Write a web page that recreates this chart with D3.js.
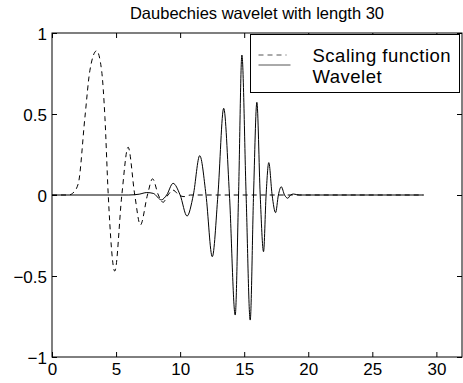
<!DOCTYPE html>
<html>
<head>
<meta charset="utf-8">
<script src="https://cdn.jsdelivr.net/npm/d3@7"></script>
<style>
  body { margin: 0; background: #fff; }
  svg { display: block; font-family: "Liberation Sans", Arial, Helvetica, sans-serif; }
</style>
</head>
<body>
<svg id="chart" width="463" height="383"></svg>
<script>
// values (local extrema and zero crossings)
const scalingX = [0, 1.3, 1.6, 2.05, 2.57, 2.96, 3.48, 3.87, 4.13, 4.39, 4.9, 5.45, 5.94, 6.46, 6.9, 7.45, 7.85, 8.3, 8.67, 9.05, 9.45, 9.9, 10.3, 10.8, 29];
const scalingY = [0, 0, 0.01, 0.07, 0.48, 0.77, 0.89, 0.77, 0.48, 0, -0.47, 0, 0.295, 0, -0.185, 0, 0.1, 0, -0.045, 0, 0.03, 0, -0.01, 0, 0];

const waveletX = [0, 6.0, 6.8, 7.4, 7.9, 8.54, 8.95, 9.45, 10.0, 10.54, 11.03, 11.53, 12.02, 12.51, 12.95, 13.4, 13.85, 14.3, 14.56, 14.82, 15.15, 15.47, 15.73, 15.99, 16.25, 16.51, 16.71, 16.92, 17.18, 17.45, 17.67, 17.89, 18.15, 18.4, 18.62, 18.85, 19.3, 29];
const waveletY = [0, 0, 0.005, 0.015, 0.01, -0.03, 0, 0.072, 0, -0.13, 0, 0.243, 0, -0.381, 0, 0.535, 0, -0.741, 0, 0.864, 0, -0.772, 0, 0.572, 0, -0.35, 0, 0.2, 0, -0.109, 0, 0.051, 0, -0.02, 0, 0.006, 0, 0];

const xTicks = [0, 5, 10, 15, 20, 25, 30];
const yTicks = [-1, -0.5, 0, 0.5, 1];
const yTickLabels = ["\u22121", "\u22120.5", "0", "0.5", "1"];
const titleText = "Daubechies wavelet with length 30";
const legendLabels = ["Scaling function", "Wavelet"];

const svg = d3.select("#chart");
const margin = { top: 33, right: 1, bottom: 26, left: 52 };
const width = 463 - margin.left - margin.right;
const height = 383 - margin.top - margin.bottom;

const x = d3.scaleLinear().domain([0, 32]).range([0, width]);
const y = d3.scaleLinear().domain([-1, 1]).range([height, 0]);

const g = svg.append("g").attr("transform", `translate(${margin.left},${margin.top})`);

const line = d3.line()
    .x(d => x(d[0]))
    .y(d => y(d[1]))
    .curve(d3.curveMonotoneX);

g.append("path")
    .datum(scalingX.map((v, i) => [v, scalingY[i]]))
    .attr("fill", "none")
    .attr("stroke", "#000")
    .attr("stroke-width", 1)
    .attr("stroke-dasharray", "5,4")
    .attr("d", line);

g.append("path")
    .datum(waveletX.map((v, i) => [v, waveletY[i]]))
    .attr("fill", "none")
    .attr("stroke", "#000")
    .attr("stroke-width", 1)
    .attr("d", line);

// axes, ticks pointing inward like matlab
const fontSize = 17;
const bottom = g.append("g")
    .attr("transform", `translate(0,${height})`)
    .call(d3.axisBottom(x).tickValues(xTicks).tickSizeInner(-5).tickSizeOuter(0).tickPadding(6));
const left = g.append("g")
    .call(d3.axisLeft(y).tickValues(yTicks).tickSizeInner(-5).tickSizeOuter(0).tickPadding(5)
        .tickFormat((d, i) => yTickLabels[i]));
g.append("g")
    .call(d3.axisTop(x).tickValues(xTicks).tickSizeInner(-5).tickSizeOuter(0).tickFormat(""));
g.append("g")
    .attr("transform", `translate(${width},0)`)
    .call(d3.axisRight(y).tickValues(yTicks).tickSizeInner(-5).tickSizeOuter(0).tickFormat(""));

g.selectAll(".domain").remove();
g.selectAll(".tick line").attr("stroke", "#000");
g.selectAll(".tick text")
    .attr("fill", "#000")
    .style("font-family", "\"Liberation Sans\", Arial, sans-serif")
    .style("font-size", fontSize + "px");
left.selectAll(".tick text").attr("dy", "0.36em");

g.append("rect")
    .attr("x", 0).attr("y", 0)
    .attr("width", width).attr("height", height)
    .attr("fill", "none")
    .attr("stroke", "#000")
    .attr("stroke-width", 1);

// title
svg.append("text")
    .attr("x", margin.left + width / 2)
    .attr("y", 19)
    .attr("text-anchor", "middle")
    .style("font-size", "16.5px")
    .text(titleText);

// legend
const legend = svg.append("g").attr("transform", "translate(250.5,34.5)");
legend.append("rect")
    .attr("width", 209).attr("height", 58)
    .attr("fill", "#fff")
    .attr("stroke", "#000")
    .attr("stroke-width", 1);
legend.append("line")
    .attr("x1", 8).attr("x2", 36).attr("y1", 20.5).attr("y2", 20.5)
    .attr("stroke", "#555").attr("stroke-dasharray", "5,4");
legend.append("line")
    .attr("x1", 8).attr("x2", 40).attr("y1", 30.5).attr("y2", 30.5)
    .attr("stroke", "#555");
legend.selectAll("text.lab")
    .data(legendLabels)
    .join("text")
    .attr("class", "lab")
    .attr("x", 62)
    .attr("y", (d, i) => 27.5 + i * 21)
    .style("font-size", "18.5px")
    .style("letter-spacing", "0.5px")
    .text(d => d);
</script>
</body>
</html>
